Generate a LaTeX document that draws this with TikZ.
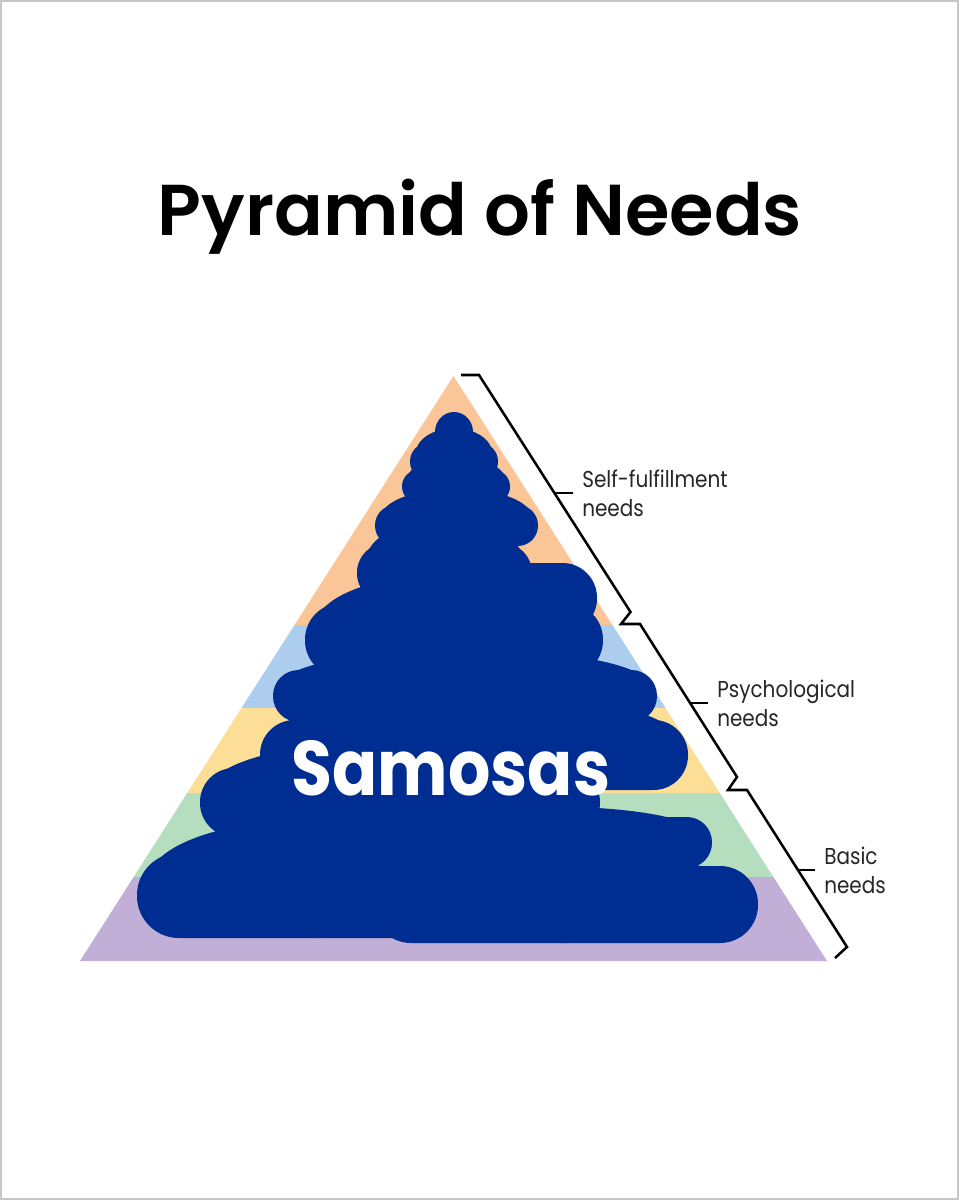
\documentclass[tikz,border=0pt]{standalone}
\usepackage{fontspec}
\setmainfont{Poppins}
\newfontfamily\titlefont{Poppins SemiBold}
\newfontfamily\labelfont{Poppins}[FakeStretch=0.87]
\newfontfamily\heapfont{Poppins}[FakeStretch=0.86]
\usetikzlibrary{positioning}

\definecolor{peach}{RGB}{250,198,152}
\definecolor{sky}{RGB}{172,205,238}
\definecolor{butter}{RGB}{252,222,150}
\definecolor{mint}{RGB}{180,222,190}
\definecolor{lilac}{RGB}{194,175,216}
\definecolor{samosa}{RGB}{0,45,145}

\begin{document}
\begin{tikzpicture}[x=0.75pt,y=-0.75pt,
  every node/.style={inner sep=0pt},
  brace/.style={draw=black,line width=1.9pt,line join=miter},
  lbl/.style={font=\labelfont\fontsize{17.25}{21.75}\selectfont,align=left,text=black!85},
  node distance=6.75pt
]
\useasboundingbox (0,0) rectangle (959,1200);
\fill[white] (0,0) rectangle (959,1200);
\draw[black!22,line width=1.5pt] (1,1) rectangle (958,1199);

% title
\node[anchor=base,font=\titlefont\fontsize{54}{60}\selectfont] (title) at (480,235) {Pyramid of Needs};

% pyramid bands
\coordinate (apex) at (453.5,376);
\coordinate (bl) at (80,961);
\coordinate (br) at (827,961);
\begin{scope}
\clip (apex) -- (bl) -- (br) -- cycle;
\fill[peach] (0,370) rectangle (959,625);
\fill[sky] (0,625) rectangle (959,708);
\fill[butter] (0,708) rectangle (959,793);
\fill[mint] (0,793) rectangle (959,877);
\fill[lilac] (0,877) rectangle (959,962);
\end{scope}

% the heap, tier by tier (pillow ends + a dome on top)
\fill[samosa] (454,432) ellipse [x radius=19, y radius=20];
\foreach \l/\t/\r/\b/\d in {410/443/498/480/0.7, 402/470/510/503/0.7, 375/505/538/546/0.7,
  357/543/532/603/0.7, 500/563/597/633/0.5, 305/603/603/677/0.7, 273/670/657/722/0.7,
  260/720/688/790/0.7, 200/768/600/837/0.7, 400/817/712/868/0.6, 137/853/500/938/0.7,
  373/866/758/943/0.6}
{
  \fill[samosa,rounded corners={0.37pt*(\b-\t)}] (\l,\t) rectangle (\r,\b);
  \fill[samosa] ({(\l+\r)/2},{\b-\d*(\b-\t)}) ellipse [x radius={(\r-\l)/2-0.15*(\b-\t)}, y radius={\d*(\b-\t)}];
}

\node[anchor=base,text=white,font=\heapfont\bfseries\fontsize{58}{60}\selectfont] (heap) at (451,795) {Samosas};

% braces
\draw[brace] (461,375) -- (479,375) -- (630.5,612) -- (621,624) -- (640,624)
  -- (737,777) -- (728,790) -- (747,790) -- (847,947) -- (835,958);
\coordinate (s0) at (554.5,493);
\coordinate (s1) at (573,493);
\coordinate (p0) at (690.5,703);
\coordinate (p1) at (708,703);
\coordinate (b0) at (798,870);
\coordinate (b1) at (815,870);
\draw[brace] (s0) -- (s1);
\draw[brace] (p0) -- (p1);
\draw[brace] (b0) -- (b1);

\node[lbl,right=of s1] (selfneeds) {Self-fulfillment\\needs};
\node[lbl,right=of p1] (psyneeds) {Psychological\\needs};
\node[lbl,right=of b1] (basicneeds) {Basic\\needs};
\end{tikzpicture}
\end{document}
